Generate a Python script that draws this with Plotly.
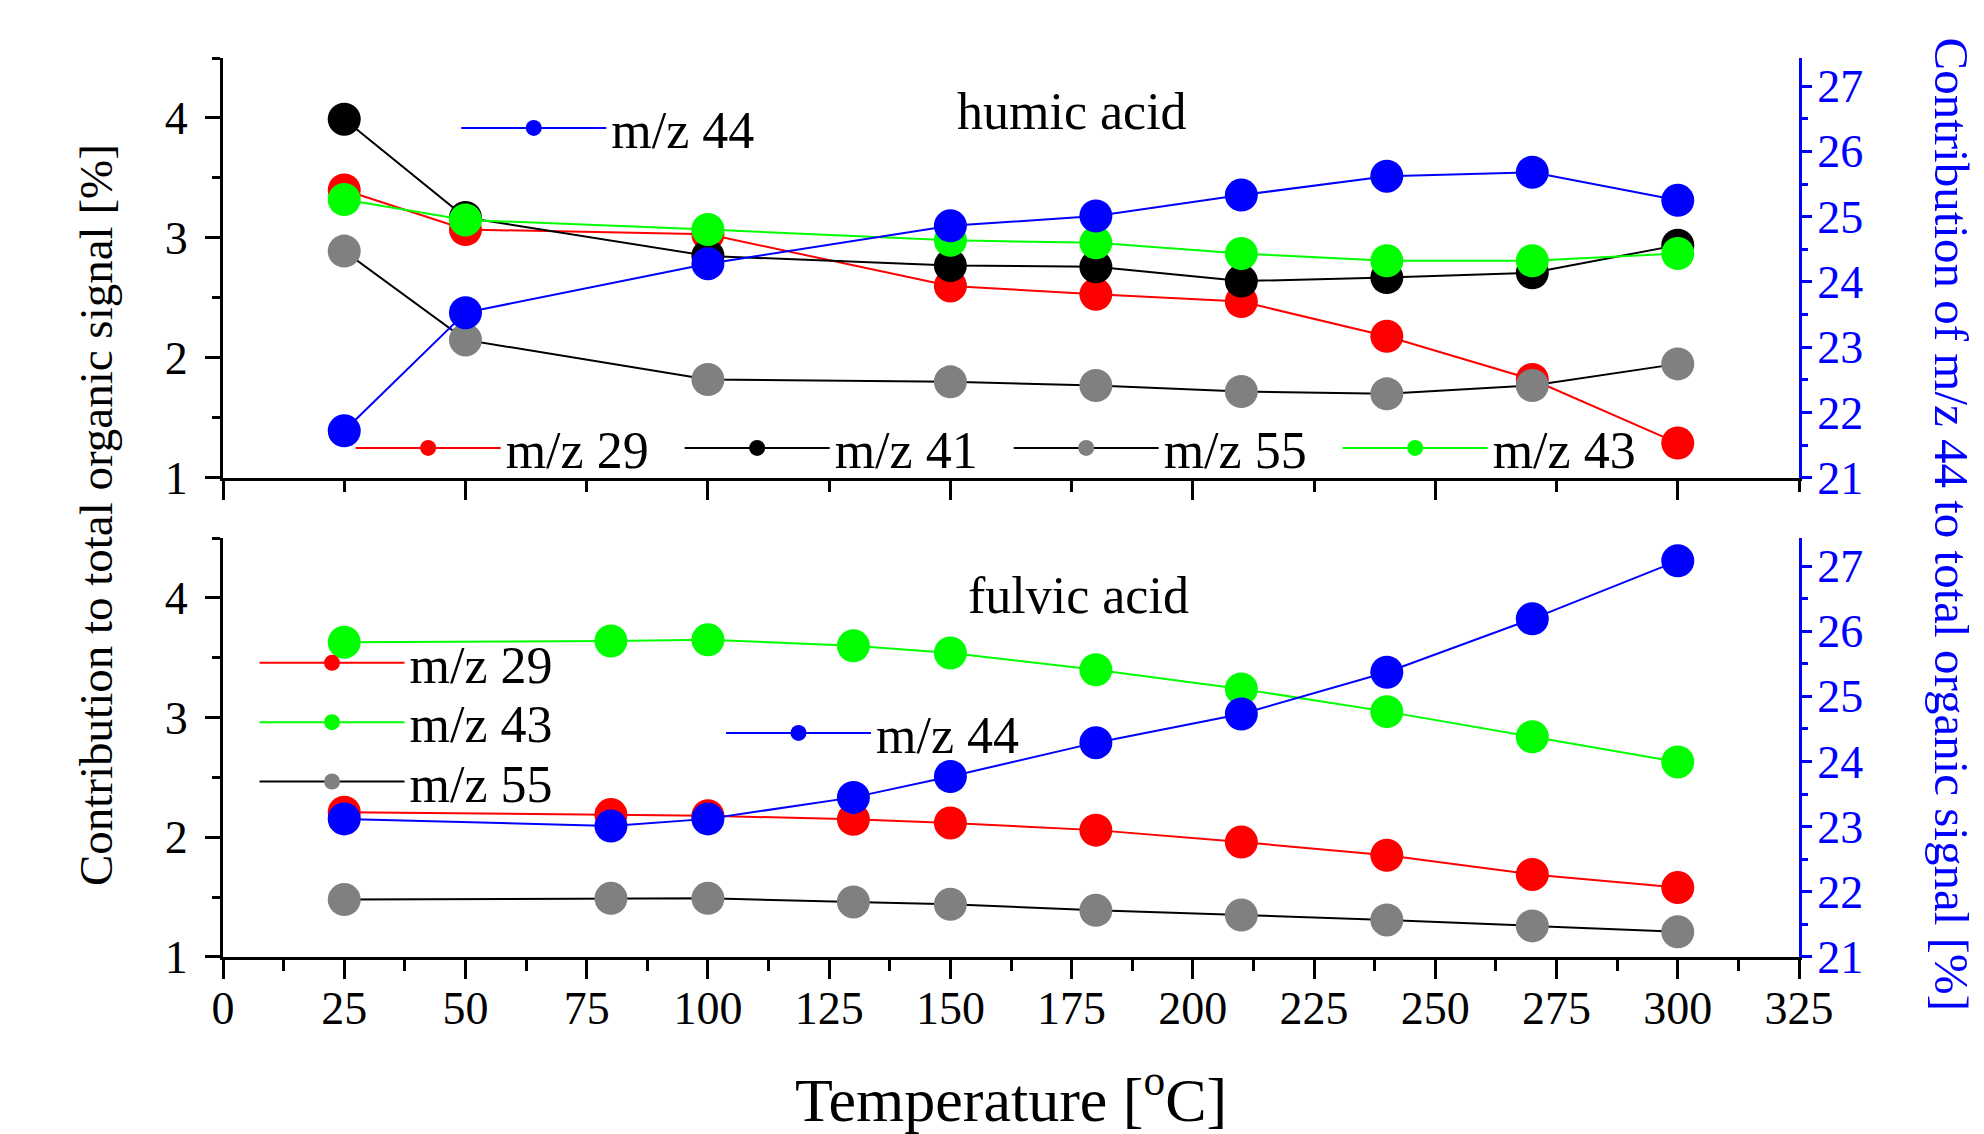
import plotly.graph_objects as go

# ---------------- data ----------------
humic_temp = [25, 50, 100, 150, 180, 210, 240, 270, 300]
humic_mz29 = [3.40, 3.07, 3.03, 2.60, 2.53, 2.47, 2.18, 1.82, 1.29]
humic_mz41 = [3.99, 3.17, 2.85, 2.77, 2.76, 2.64, 2.67, 2.71, 2.94]
humic_mz55 = [2.89, 2.15, 1.82, 1.80, 1.77, 1.72, 1.70, 1.77, 1.95]
humic_mz43 = [3.32, 3.15, 3.07, 2.98, 2.96, 2.87, 2.81, 2.81, 2.87]
humic_mz44 = [21.72, 23.53, 24.28, 24.86, 25.01, 25.33, 25.62, 25.68, 25.25]

fulvic_temp = [25, 80, 100, 130, 150, 180, 210, 240, 270, 300]
fulvic_mz29 = [2.21, 2.19, 2.18, 2.15, 2.12, 2.06, 1.96, 1.85, 1.69, 1.58]
fulvic_mz43 = [3.63, 3.64, 3.65, 3.60, 3.54, 3.40, 3.24, 3.05, 2.84, 2.63]
fulvic_mz55 = [1.48, 1.49, 1.49, 1.46, 1.44, 1.39, 1.35, 1.31, 1.26, 1.21]
fulvic_mz44 = [23.12, 23.01, 23.12, 23.45, 23.77, 24.29, 24.73, 25.37, 26.19, 27.08]

x_range = [0, 325]
left_range = [1, 4.5]
right_range = [21, 27.43]

FONT = "Liberation Serif"
RED, BLACK, GRAY, GREEN, BLUE = "#ff0000", "#000000", "#808080", "#00ff00", "#0000ff"
MS = 33
LEGFONT = 52
IW = 145

fig = go.Figure()


def add(x, y, name, mcolor, lcolor, xa, ya, legend):
    fig.add_trace(go.Scatter(
        x=x, y=y, name=name, mode="lines+markers",
        marker=dict(color=mcolor, size=MS, line=dict(width=0)),
        line=dict(color=lcolor, width=2),
        xaxis=xa, yaxis=ya, legend=legend, cliponaxis=False))


# top panel: humic acid
add(humic_temp, humic_mz29, "m/z 29", RED, RED, "x2", "y3", "legend2")
add(humic_temp, humic_mz41, "m/z 41", BLACK, BLACK, "x2", "y3", "legend2")
add(humic_temp, humic_mz55, "m/z 55", GRAY, BLACK, "x2", "y3", "legend2")
add(humic_temp, humic_mz43, "m/z 43", GREEN, GREEN, "x2", "y3", "legend2")
add(humic_temp, humic_mz44, "m/z 44", BLUE, BLUE, "x2", "y4", "legend")

# bottom panel: fulvic acid
add(fulvic_temp, fulvic_mz29, "m/z 29", RED, RED, "x", "y", "legend3")
add(fulvic_temp, fulvic_mz43, "m/z 43", GREEN, GREEN, "x", "y", "legend5")
add(fulvic_temp, fulvic_mz55, "m/z 55", GRAY, BLACK, "x", "y", "legend6")
add(fulvic_temp, fulvic_mz44, "m/z 44", BLUE, BLUE, "x", "y2", "legend4")

LW = 3
xcommon = dict(range=x_range, showgrid=False, zeroline=False, showline=True,
               linecolor=BLACK, linewidth=LW, tickcolor=BLACK, tickwidth=LW, tick0=0)
bottom_dom = [0, 0.466]
top_dom = [0.533, 1]


def leg(x, y, **kw):
    d = dict(x=x, y=y, xanchor="left", yanchor="middle", bgcolor="rgba(0,0,0,0)",
             font=dict(size=LEGFONT, family=FONT, color=BLACK), itemwidth=IW, borderwidth=0)
    d.update(kw)
    return d


def yleft(dom, anchor):
    return dict(domain=dom, anchor=anchor, range=left_range, tick0=1, dtick=1,
                showgrid=False, zeroline=False, showline=True, linecolor=BLACK, linewidth=LW,
                ticks="outside", ticklen=15, tickwidth=LW, tickcolor=BLACK,
                minor=dict(dtick=0.5, ticks="outside", ticklen=8, tickwidth=LW, tickcolor=BLACK),
                tickfont=dict(size=46, family=FONT), ticklabelstandoff=8)


def yright(over, anchor):
    return dict(overlaying=over, anchor=anchor, side="right", range=right_range, tick0=21, dtick=1,
                showgrid=False, zeroline=False, showline=True, linecolor=BLUE, linewidth=LW,
                ticks="outside", ticklen=10, tickwidth=LW, tickcolor=BLUE,
                minor=dict(dtick=0.5, ticks="outside", ticklen=6, tickwidth=LW, tickcolor=BLUE),
                tickfont=dict(size=46, color=BLUE, family=FONT), ticklabelstandoff=-4)


fig.update_layout(
    width=1976, height=1126,
    margin=dict(l=215, r=185, t=50, b=177),
    paper_bgcolor="white", plot_bgcolor="white",
    font=dict(family=FONT, color=BLACK, size=46),
    showlegend=True,
    xaxis=dict(**xcommon, anchor="y", domain=[0, 1], dtick=25, ticks="outside", ticklen=19,
               minor=dict(dtick=12.5, ticks="outside", ticklen=11, tickwidth=LW, tickcolor=BLACK),
               showticklabels=True, tickfont=dict(size=46, family=FONT), ticklabelstandoff=-10),
    xaxis3=dict(**xcommon, anchor="y", overlaying="x", side="top", dtick=25, ticks="inside", ticklen=16,
                minor=dict(dtick=12.5, ticks="inside", ticklen=10, tickwidth=LW, tickcolor=BLACK),
                showticklabels=False),
    xaxis2=dict(**xcommon, anchor="y3", domain=[0, 1], dtick=50, ticks="outside", ticklen=19,
                minor=dict(dtick=25, ticks="outside", ticklen=11, tickwidth=LW, tickcolor=BLACK),
                showticklabels=False),
    xaxis4=dict(**xcommon, anchor="y3", overlaying="x2", side="top", dtick=50, ticks="inside", ticklen=16,
                minor=dict(dtick=25, ticks="inside", ticklen=10, tickwidth=LW, tickcolor=BLACK),
                showticklabels=False),
    yaxis=yleft(bottom_dom, "x"),
    yaxis2=yright("y", "x"),
    yaxis3=yleft(top_dom, "x2"),
    yaxis4=yright("y3", "x2"),
    legend=leg(0.148, 0.922),
    legend2=leg(0.081, 0.566, orientation="h", entrywidth=169, entrywidthmode="pixels"),
    legend3=leg(0.020, 0.327),
    legend5=leg(0.020, 0.261),
    legend6=leg(0.020, 0.195),
    legend4=leg(0.316, 0.249),
    annotations=[
        dict(text="humic acid", x=0.539, y=0.941, xref="paper", yref="paper", showarrow=False,
             font=dict(size=52, family=FONT, color=BLACK), xanchor="center", yanchor="middle"),
        dict(text="fulvic acid", x=0.543, y=0.402, xref="paper", yref="paper", showarrow=False,
             font=dict(size=52, family=FONT, color=BLACK), xanchor="center", yanchor="middle"),
        dict(text="Temperature [<sup>o</sup>C]", x=0.5, y=-0.199, xref="paper", yref="paper",
             showarrow=False, font=dict(size=62, family=FONT, color=BLACK),
             xanchor="center", yanchor="bottom"),
        dict(text="Contribution to total organic signal [%]", x=-0.081, y=0.492, xref="paper",
             yref="paper", showarrow=False, textangle=-90,
             font=dict(size=47, family=FONT, color=BLACK), xanchor="center", yanchor="middle"),
        dict(text="Contribution of m/z 44 to total organic signal [%]", x=1.0965, y=0.481,
             xref="paper", yref="paper", showarrow=False, textangle=90,
             font=dict(size=49, family=FONT, color=BLUE), xanchor="center", yanchor="middle"),
    ],
)

fig.write_html("out.html")
